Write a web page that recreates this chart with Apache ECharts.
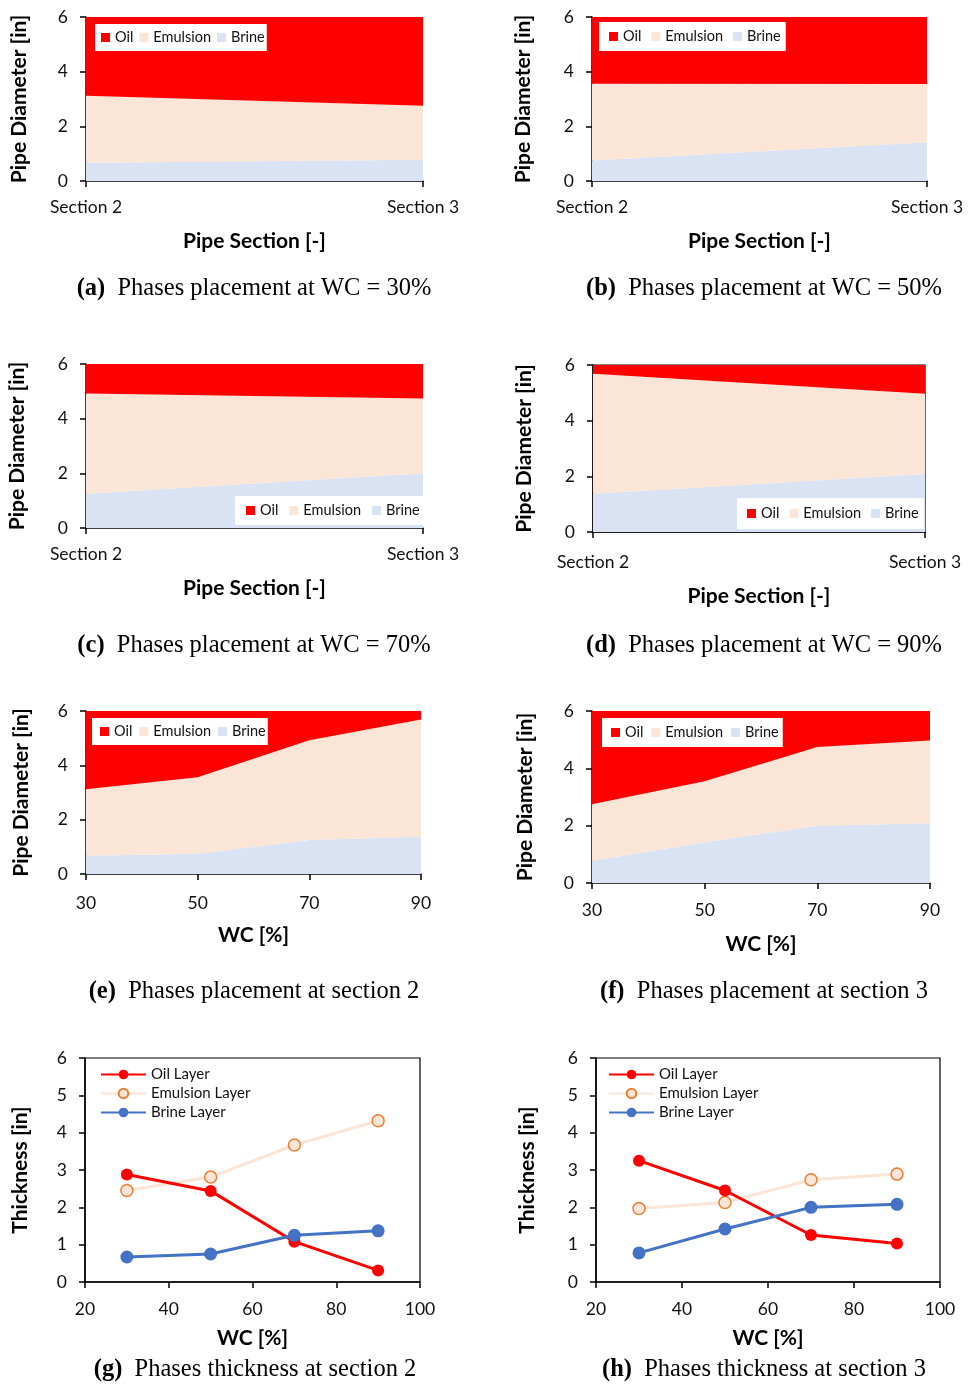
<!DOCTYPE html>
<html><head><meta charset="utf-8">
<script src="https://cdn.jsdelivr.net/npm/echarts@6/dist/echarts.min.js"></script>
<style>html,body{margin:0;padding:0;background:#fff}#c{width:977px;height:1384px}</style>
</head><body><div id="c"></div>
<script>
// ---- data ----
const sections = ['Section 2', 'Section 3'];
const wcLabels = ['30', '50', '70', '90'];
const wcValues = [30, 50, 70, 90];
const sec2Oil = [2.88, 2.44, 1.08, 0.31];
const sec2Emulsion = [2.45, 2.81, 3.67, 4.32];
const sec2Brine = [0.67, 0.75, 1.25, 1.37];
const sec3Oil = [3.25, 2.45, 1.26, 1.03];
const sec3Emulsion = [1.97, 2.13, 2.74, 2.89];
const sec3Brine = [0.78, 1.42, 2.00, 2.08];
const phaseNames = ['Oil', 'Emulsion', 'Brine'];
const layerNames = ['Oil Layer', 'Emulsion Layer', 'Brine Layer'];
const captionsText = [
  ['(a)', 'Phases placement at WC = 30%'],
  ['(b)', 'Phases placement at WC = 50%'],
  ['(c)', 'Phases placement at WC = 70%'],
  ['(d)', 'Phases placement at WC = 90%'],
  ['(e)', 'Phases placement at section 2'],
  ['(f)', 'Phases placement at section 3'],
  ['(g)', 'Phases thickness at section 2'],
  ['(h)', 'Phases thickness at section 3']
];

// ---- styles ----
const FONT = 'Lato';
const C_OIL = '#FF0000', C_EMUL = '#FBE5D6', C_BRINE = '#DAE3F3', C_BLUE = '#4472C4', C_ORANGE = '#ED7D31';

const grids = [], xAxes = [], yAxes = [], series = [], legends = [], titles = [];

const axisLineStyle = { color: '#000', width: 1.5 };
const tickLabel = { fontFamily: FONT, fontSize: 17.5, color: '#111' };
const nameStyle = { fontFamily: FONT, fontSize: 21, fontWeight: 'bold', color: '#000' };

function addCaption(i, cx, cy) {
  titles.push({
    text: '{b|' + captionsText[i][0] + '}  ' + captionsText[i][1],
    left: cx, top: cy, textAlign: 'center', textVerticalAlign: 'middle', padding: 0,
    textStyle: { fontFamily: 'Liberation Serif', fontSize: 24.5, fontWeight: 'normal', color: '#000',
      rich: { b: { fontFamily: 'Liberation Serif', fontSize: 24.5, fontWeight: 'bold', color: '#000' } } }
  });
}

// area panel
function addArea(i, L, cats, oil, emul, brine, xName, leg, frame) {
  grids.push({ left: L.l, top: L.t, width: L.w, height: L.h, show: !!frame, borderColor: '#000', borderWidth: 1.2, backgroundColor: 'transparent' });
  xAxes.push({ gridIndex: i, type: 'category', data: cats, boundaryGap: false,
    name: xName, nameLocation: 'middle', nameGap: L.xng, nameTextStyle: nameStyle,
    axisLine: { lineStyle: axisLineStyle }, axisTick: { show: true, length: 6, interval: 0, lineStyle: axisLineStyle },
    axisLabel: Object.assign({ margin: L.xlm, interval: 0 }, tickLabel), splitLine: { show: false } });
  yAxes.push({ gridIndex: i, type: 'value', min: 0, max: 6, interval: 2,
    name: 'Pipe Diameter [in]', nameLocation: 'middle', nameGap: L.yng, nameTextStyle: nameStyle,
    axisLine: { show: true, lineStyle: axisLineStyle }, axisTick: { show: true, length: 6, lineStyle: axisLineStyle },
    axisLabel: Object.assign({ margin: 18 }, tickLabel), splitLine: { show: false } });
  const mk = (name, data, color, z) => ({
    name, type: 'line', xAxisIndex: i, yAxisIndex: i, stack: 'p' + i, data,
    symbol: 'none', lineStyle: { width: 0 }, itemStyle: { color }, areaStyle: { color, opacity: 1 }, z, silent: true
  });
  series.push(mk('Brine', brine, C_BRINE, 2), mk('Emulsion', emul, C_EMUL, 2), mk('Oil', oil, C_OIL, 2));
  legends.push({ left: leg.l, top: leg.t, orient: 'horizontal', data: phaseNames, icon: 'rect',
    itemWidth: 9, itemHeight: 9, itemGap: leg.g, padding: leg.p, backgroundColor: '#fff', selectedMode: false,
    textStyle: { fontFamily: FONT, fontSize: 14.5, color: '#111' } });
}

function addLines(i, L, oil, emul, brine, leg) {
  grids.push({ left: L.l, top: L.t, width: L.w, height: L.h, show: true, borderColor: '#000', borderWidth: 1.2 });
  xAxes.push({ gridIndex: i, type: 'value', min: 20, max: 100, interval: 20,
    name: 'WC [%]', nameLocation: 'middle', nameGap: L.xng, nameTextStyle: nameStyle,
    axisLine: { lineStyle: axisLineStyle }, axisTick: { show: true, length: 6, lineStyle: axisLineStyle },
    axisLabel: Object.assign({ margin: 18 }, tickLabel), splitLine: { show: false } });
  yAxes.push({ gridIndex: i, type: 'value', min: 0, max: 6, interval: 1,
    name: 'Thickness [in]', nameLocation: 'middle', nameGap: L.yng, nameTextStyle: nameStyle,
    axisLine: { show: true, lineStyle: axisLineStyle }, axisTick: { show: true, length: 6, lineStyle: axisLineStyle },
    axisLabel: Object.assign({ margin: 18 }, tickLabel), splitLine: { show: false } });
  const pts = arr => wcValues.map((x, k) => [x, arr[k]]);
  series.push(
    { name: 'Emulsion Layer', type: 'line', xAxisIndex: i, yAxisIndex: i, data: pts(emul), z: 2,
      symbol: 'circle', symbolSize: 12, lineStyle: { color: C_EMUL, width: 3 },
      itemStyle: { color: C_EMUL, borderColor: C_ORANGE, borderWidth: 1.5 } },
    { name: 'Oil Layer', type: 'line', xAxisIndex: i, yAxisIndex: i, data: pts(oil), z: 3,
      symbol: 'circle', symbolSize: 12, lineStyle: { color: C_OIL, width: 3 },
      itemStyle: { color: C_OIL, borderWidth: 0 } },
    { name: 'Brine Layer', type: 'line', xAxisIndex: i, yAxisIndex: i, data: pts(brine), z: 4,
      symbol: 'circle', symbolSize: 13, lineStyle: { color: C_BLUE, width: 3 },
      itemStyle: { color: C_BLUE, borderWidth: 0 } }
  );
  legends.push({ left: leg.l, top: leg.t, orient: 'vertical', data: layerNames,
    itemWidth: 45, itemHeight: 12, itemGap: 4, padding: 0, selectedMode: false,
    textStyle: { fontFamily: FONT, fontSize: 15, color: '#111' } });
}

// panels a-d: per water cut, across sections
const wcIdx = [0, 1, 2, 3];
const layAD = [
  { l: 86, t: 17, w: 337, h: 164, xng: 50, yng: 56, xlm: 17 },
  { l: 592, t: 17, w: 335, h: 164, xng: 50, yng: 58, xlm: 17 },
  { l: 86, t: 364, w: 337, h: 164, xng: 50, yng: 58, xlm: 17 },
  { l: 593, t: 365, w: 332, h: 167, xng: 54, yng: 58, xlm: 21 }
];
const legAD = [
  { l: 95, t: 24, g: 6, p: [6, 2, 6, 6] },
  { l: 599, t: 22, g: 10, p: [7, 5, 7, 10] },
  { l: 235, t: 496, g: 11, p: [7, 5, 7, 11] },
  { l: 737, t: 498, g: 10, p: [8, 5, 8, 10] }
];
const capXY = [[254, 289], [764, 289], [254, 646], [764, 646], [254, 992], [764, 992], [255, 1370], [764, 1370]];
wcIdx.forEach((k, i) => {
  addArea(i, layAD[i], sections,
    [sec2Oil[k], sec3Oil[k]], [sec2Emulsion[k], sec3Emulsion[k]], [sec2Brine[k], sec3Brine[k]],
    'Pipe Section [-]', legAD[i], i === 3);
});
addArea(4, { l: 86, t: 711, w: 335, h: 163, xng: 51, yng: 54, xlm: 20 }, wcLabels, sec2Oil, sec2Emulsion, sec2Brine,
  'WC [%]', { l: 92, t: 718, g: 7, p: [6, 2, 6, 8] }, false);
addArea(5, { l: 592, t: 711, w: 338, h: 172, xng: 51, yng: 56, xlm: 18 }, wcLabels, sec3Oil, sec3Emulsion, sec3Brine,
  'WC [%]', { l: 602, t: 718, g: 8, p: [7, 4, 7, 9] }, false);
addLines(6, { l: 85, t: 1058, w: 335, h: 224, xng: 46, yng: 54 }, sec2Oil, sec2Emulsion, sec2Brine, { l: 100, t: 1067 });
addLines(7, { l: 596, t: 1058, w: 344, h: 224, xng: 46, yng: 58 }, sec3Oil, sec3Emulsion, sec3Brine, { l: 608, t: 1067 });
capXY.forEach((c, i) => addCaption(i, c[0], c[1]));

const chart = echarts.init(document.getElementById('c'), null, { renderer: 'canvas', width: 977, height: 1384 });
chart.setOption({
  animation: false, backgroundColor: '#fff',
  title: titles, grid: grids, xAxis: xAxes, yAxis: yAxes, series, legend: legends, tooltip: { show: false }
});
</script></body></html>
